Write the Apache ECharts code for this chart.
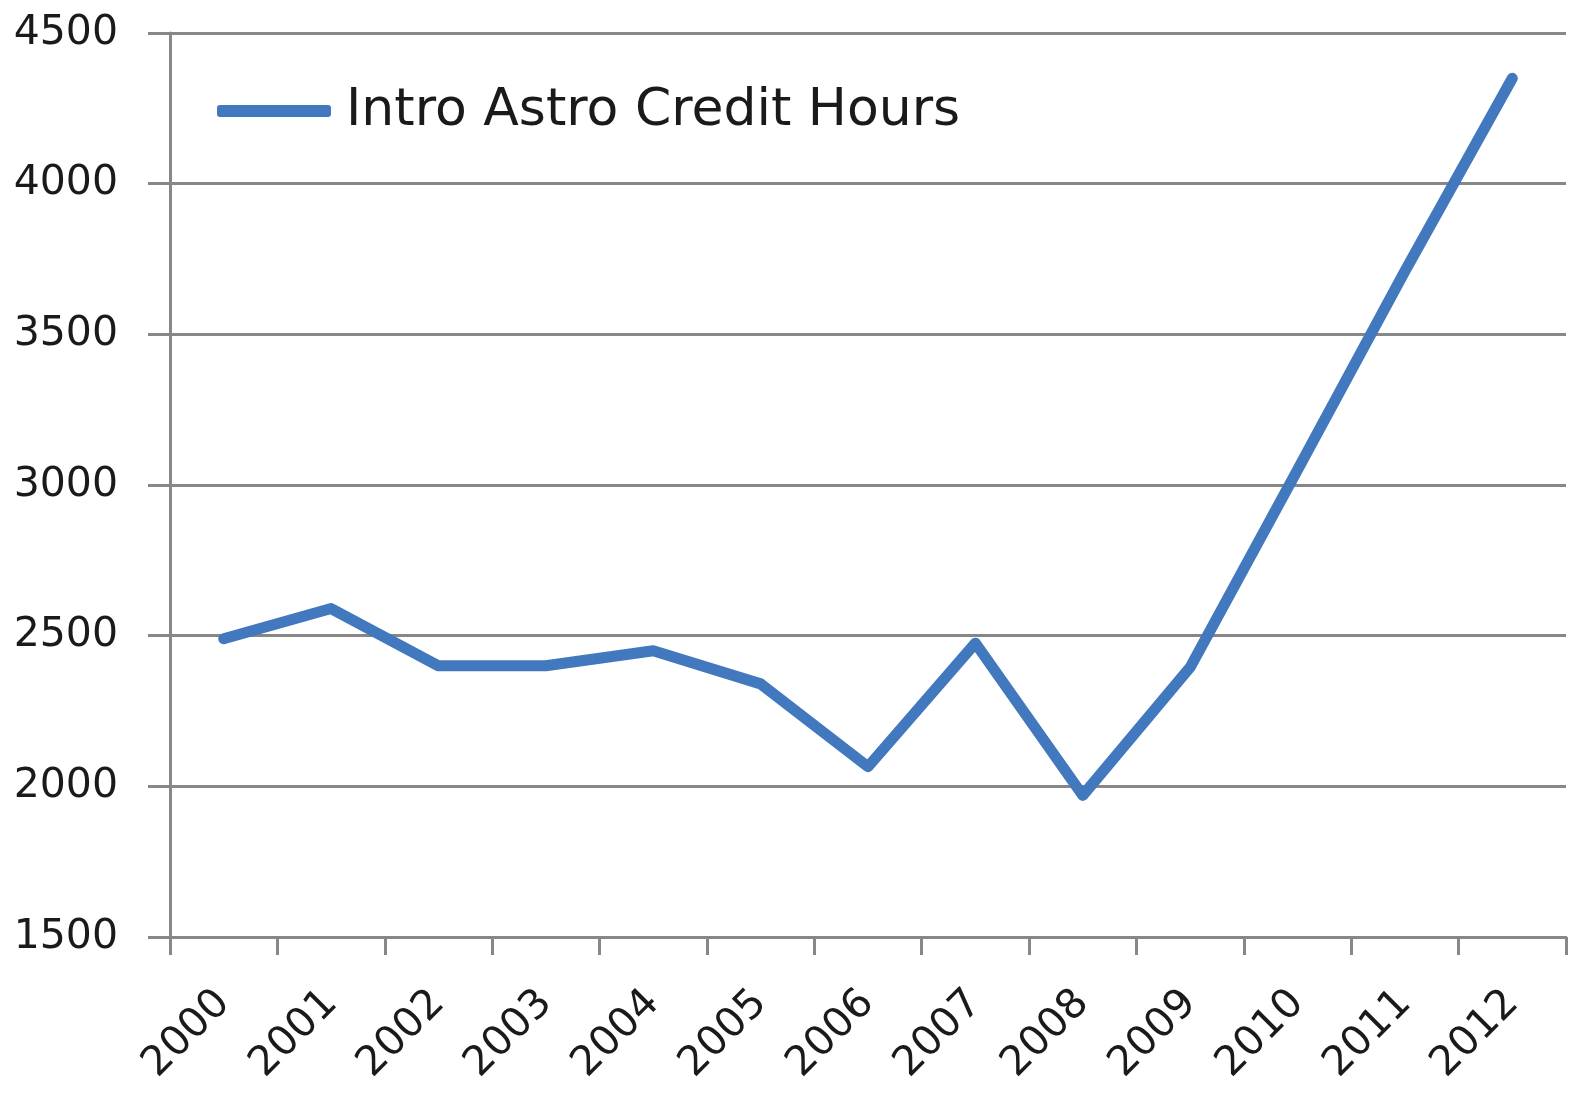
<!DOCTYPE html>
<html>
<head>
<meta charset="utf-8">
<script src="https://cdn.jsdelivr.net/npm/echarts@6/dist/echarts.min.js"></script>
<style>
html,body{margin:0;padding:0;background:#fff;}
#chart{width:1584px;height:1100px;}
</style>
</head>
<body>
<div id="chart"></div>
<script>
var years = ['2000','2001','2002','2003','2004','2005','2006','2007','2008','2009','2010','2011','2012'];
var creditHours = [2490, 2590, 2400, 2400, 2450, 2340, 2065, 2475, 1970, 2395, 3050, 3710, 4350];
var seriesName = 'Intro Astro Credit Hours';

var chart = echarts.init(document.getElementById('chart'));
var gray = '#878787';
var font = 'DejaVu Sans';
chart.setOption({
  animation: false,
  backgroundColor: '#ffffff',
  grid: {left: 170, right: 18, top: 33, bottom: 163, containLabel: false},
  legend: {
    data: [seriesName],
    left: 212,
    top: 80,
    icon: 'roundRect',
    itemWidth: 114,
    itemHeight: 12,
    itemGap: 20,
    textStyle: {fontFamily: font, fontSize: 52, color: '#1a1a1a', padding: [0,0,0,10]}
  },
  xAxis: {
    type: 'category',
    data: years,
    boundaryGap: true,
    axisLine: {show: true, lineStyle: {color: gray, width: 3}},
    axisTick: {show: true, length: 18, lineStyle: {color: gray, width: 3}},
    axisLabel: {rotate: 45, margin: 60, fontFamily: font, fontSize: 41, color: '#1a1a1a'},
    splitLine: {show: false}
  },
  yAxis: {
    type: 'value',
    min: 1500,
    max: 4500,
    interval: 500,
    axisLine: {show: true, lineStyle: {color: gray, width: 3}},
    axisTick: {show: true, length: 22, lineStyle: {color: gray, width: 3}},
    axisLabel: {margin: 52, fontFamily: font, fontSize: 41, color: '#1a1a1a', formatter: function (v) { return String(v); }},
    splitLine: {show: true, lineStyle: {color: gray, width: 3}}
  },
  series: [{
    name: seriesName,
    type: 'line',
    data: creditHours,
    showSymbol: false,
    symbol: 'none',
    itemStyle: {color: '#4178be'},
    lineStyle: {color: '#4178be', width: 11, cap: 'round', join: 'round'}
  }]
});
</script>
</body>
</html>
